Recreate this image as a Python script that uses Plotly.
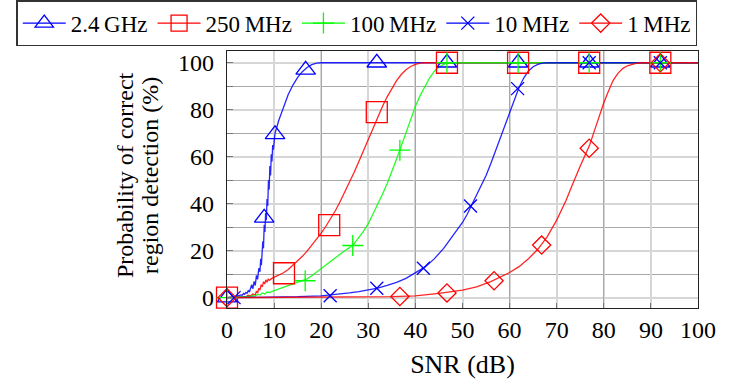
import plotly.graph_objects as go

# ---------------- data ----------------
series_names = ["2.4\u2009GHz", "250\u2009MHz", "100\u2009MHz", "10\u2009MHz", "1\u2009MHz"]
y_title_lines = ["Probability of correct", "region detection (%)"]
x_title = "SNR (dB)"

# measured points (markers)
m24_x = [0, 7.9, 10.2, 16.7, 31.8, 46.7, 61.8, 76.9, 92]
m24_y = [0, 34, 69.5, 97, 100, 100, 100, 100, 100]
m250_x = [0, 12.1, 21.7, 31.8, 46.7, 61.8, 76.9, 92]
m250_y = [0, 10.4, 30.9, 79, 100, 100, 100, 100]
m100_x = [0, 16.6, 26.7, 36.7, 46.7, 61.8, 76.9, 92]
m100_y = [0, 7.2, 22.2, 62.8, 100, 100, 100, 100]
m10_x = [-1, 1.5, 21.9, 31.8, 41.7, 51.7, 61.7, 76.9, 92]
m10_y = [0, 0, 0.8, 4, 12.5, 39, 89, 100, 100]
m1_x = [0, 36.7, 46.7, 56.7, 66.8, 76.9, 92]
m1_y = [0, 0.5, 2, 7.2, 22.4, 63.6, 100]

# fitted / simulated curves
c24_x = [0, 1, 2, 2.5, 3, 3.25, 3.5, 3.75, 4, 4.25, 4.5, 4.75, 5, 5.25, 5.5, 5.75, 6, 6.25,
         6.5, 6.75, 7, 7.15, 7.3, 7.45, 7.6, 7.75, 7.9, 8.05, 8.2, 8.35, 8.5, 8.65, 8.8,
         8.95, 9.1, 9.25, 9.4, 9.55, 9.7, 9.85, 10, 10.2, 11, 12, 13, 14, 15, 16, 17, 18,
         19, 20, 100]
c24_y = [0, 0.2, 0.5, 0.9, 1.2, 1.0, 1.8, 1.4, 2.2, 1.9, 3.0, 2.4, 3.6, 5.5, 3.8, 6.9, 5.2,
         9.5, 7.8, 12.5, 11, 16.5, 13.8, 20, 24, 21, 31, 28, 36, 33, 42, 39, 50, 46, 56, 52,
         61, 58, 65, 63, 68.5, 70, 75.5, 81.5, 86.5, 90.5, 93.8, 96.2, 98, 99.2, 99.8, 100, 100]

c250_x = [0, 3, 3.5, 4, 4.5, 5, 5.5, 6, 6.25, 6.5, 6.75, 7, 7.25, 7.5, 7.75, 8, 8.25, 8.5,
          8.75, 9, 9.5, 10, 11, 12, 13, 14, 15, 16, 17, 18, 19, 20, 21, 22, 23, 24, 25, 26,
          27, 28, 29, 30, 31, 32, 33, 34, 35, 36, 37, 38, 39, 40, 41, 42, 100]
c250_y = [0, 0.2, 0.5, 0.4, 1.0, 0.8, 1.6, 1.2, 2.8, 2.0, 4.0, 3.2, 5.5, 4.6, 6.8, 5.8, 7.6,
          6.6, 7.9, 7.4, 8.2, 8.7, 9.6, 10.6, 12, 13.8, 15.6, 17.6, 19.8, 22.2, 24.8, 27.5,
          30.4, 33.5, 37, 40.8, 44.8, 49, 53.4, 58, 62.8, 67.6, 72.4, 77, 81.4, 85.5, 89.2,
          92.4, 95, 97, 98.4, 99.3, 99.8, 100, 100]

c100_x = [0, 4, 5, 5.5, 6, 6.5, 7, 7.5, 8, 8.5, 9, 10, 11, 12, 13, 14, 15, 16, 17, 18, 19,
          20, 21, 22, 23, 24, 25, 26, 27, 28, 29, 30, 31, 32, 33, 34, 35, 36, 37, 38, 39, 40,
          41, 42, 43, 44, 45, 46, 47, 100]
c100_y = [0, 0.2, 0.5, 0.9, 0.6, 1.5, 1.1, 2.0, 1.6, 2.4, 2.2, 3.0, 3.7, 4.5, 5.3, 6.0, 6.6,
          7.1, 8.0, 9.3, 10.9, 12.5, 14.0, 15.5, 17.0, 18.5, 20.0, 21.3, 23.0, 25.5, 28.3,
          31.5, 35.5, 40.0, 44.0, 48.5, 53.5, 59.0, 64.5, 70.5, 76.5, 81.5, 86.0, 90.0, 93.5,
          96.3, 98.2, 99.3, 100, 100]

c10_x = [0, 5, 10, 15, 20, 22, 24, 26, 28, 30, 32, 34, 36, 38, 40, 42, 44, 46, 48, 50, 51,
         52, 53, 54, 55, 56, 57, 58, 59, 60, 61, 62, 63, 64, 65, 66, 67, 68, 100]
c10_y = [0, 0.1, 0.2, 0.4, 0.8, 1.1, 1.5, 2.0, 2.6, 3.3, 4.1, 5.2, 6.5, 8.2, 10.5, 13.0, 16.5,
         21.0, 26.5, 32.0, 35.5, 39.5, 43.5, 47.5, 52.0, 57.0, 62.5, 68.0, 73.5, 79.0, 84.5,
         89.5, 93.5, 96.5, 98.3, 99.3, 99.8, 100, 100]

c1_x = [0, 20, 30, 35, 40, 45, 50, 53, 56, 58, 60, 62, 64, 66, 68, 70, 71, 72, 73, 74, 75,
        76, 77, 78, 79, 80, 81, 82, 83, 84, 85, 86, 87, 88, 100]
c1_y = [0, 0.1, 0.3, 0.4, 0.8, 1.8, 3.2, 4.6, 6.8, 8.6, 10.7, 13.2, 16.6, 20.6, 26.0, 33.0,
        37.0, 41.5, 46.5, 51.5, 56.0, 60.5, 65.0, 71.0, 77.5, 83.0, 88.0, 92.5, 95.5, 97.5,
        98.7, 99.4, 99.8, 100, 100]

x_ticks = [0, 10, 20, 30, 40, 50, 60, 70, 80, 90, 100]
y_ticks = [0, 20, 40, 60, 80, 100]

# ---------------- styling ----------------
colors = ["#0000ff", "#ff0000", "#00ff00", "#0000ff", "#ff0000"]
symbols = ["triangle-up-open", "square-open", "cross-thin-open", "x-thin-open", "diamond-open"]
sizes = [17, 21, 15, 13, 14]
FONT = "Liberation Serif, Times New Roman, DejaVu Serif, serif"

curves = [(c24_x, c24_y), (c250_x, c250_y), (c100_x, c100_y), (c10_x, c10_y), (c1_x, c1_y)]
marks = [(m24_x, m24_y), (m250_x, m250_y), (m100_x, m100_y), (m10_x, m10_y), (m1_x, m1_y)]

fig = go.Figure()
for i, name in enumerate(series_names):
    cx, cy = curves[i]
    fig.add_trace(go.Scatter(x=cx, y=cy, mode="lines", showlegend=False,
                             line=dict(color=colors[i], width=1.3), opacity=0.85,
                             hoverinfo="skip"))
for i, name in enumerate(series_names):
    mx, my = marks[i]
    fig.add_trace(go.Scatter(x=mx, y=my, mode="markers", showlegend=False, cliponaxis=False,
                             marker=dict(symbol=symbols[i], size=sizes[i], color=colors[i],
                                         line=dict(color=colors[i], width=1.3))))
# legend entries
for i, name in enumerate(series_names):
    fig.add_trace(go.Scatter(x=[None], y=[None], mode="lines+markers", name=name,
                             line=dict(color=colors[i], width=1.3),
                             marker=dict(symbol=symbols[i], size=sizes[i], color=colors[i],
                                         line=dict(color=colors[i], width=1.3))))

# dark grid overlay axis for x (even twenties)
fig.add_trace(go.Scatter(x=[None], y=[None], xaxis="x2", showlegend=False, hoverinfo="skip"))

# y-axis title as two rotated lines (tighter line spacing than the built-in title)
annotations = [
    dict(text=y_title_lines[0], xref="paper", yref="paper", x=-0.2166, y=0.5175,
         xanchor="center", yanchor="middle", textangle=-90, showarrow=False,
         font=dict(family=FONT, size=24)),
    dict(text=y_title_lines[1], xref="paper", yref="paper", x=-0.1635, y=0.5175,
         xanchor="center", yanchor="middle", textangle=-90, showarrow=False,
         font=dict(family=FONT, size=24)),
]

fig.update_layout(
    width=740, height=385,
    margin=dict(l=227, r=42, t=51, b=77, autoexpand=False),
    paper_bgcolor="white", plot_bgcolor="white",
    font=dict(family=FONT, size=22, color="black"),
    showlegend=True,
    annotations=annotations,
    legend=dict(orientation="h", x=-0.447, xanchor="left", y=1.197, yanchor="top",
                bordercolor="#333", borderwidth=1.3, bgcolor="white",
                font=dict(family=FONT, size=23), itemsizing="trace",
                tracegroupgap=0, itemwidth=43),
    xaxis=dict(range=[0, 100], tickvals=x_ticks, showgrid=True, gridcolor="#d6d6d6",
               gridwidth=1.8, zeroline=False, showline=True, linecolor="#222", linewidth=1.2,
               mirror=True, ticks="inside", ticklen=5, tickcolor="#777", automargin=False,
               ticklabelstandoff=0,
               title=dict(text=x_title, standoff=12), tickfont=dict(size=24)),
    xaxis2=dict(range=[0, 100], overlaying="x", tickvals=[20, 40, 60, 80], showgrid=True,
                gridcolor="#a8a8a8", gridwidth=1, showticklabels=False, zeroline=False,
                anchor="y", side="bottom", showline=False, ticks="", automargin=False),
    yaxis=dict(range=[-4.4, 105], tickvals=y_ticks, showgrid=True, gridcolor="#d6d6d6",
               gridwidth=1.8, zeroline=False, showline=True, linecolor="#222", linewidth=1.2,
               mirror=True, ticks="inside", ticklen=6, tickcolor="#777", automargin=False,
               ticklabelstandoff=7,
               minor=dict(dtick=10, showgrid=True, gridcolor="#a8a8a8", gridwidth=1,
                          ticks="inside", ticklen=6, tickcolor="#777"),
               tickfont=dict(size=24)),
)

fig.write_html("out.html", config={"displayModeBar": False},
               post_script="document.body.style.margin='0';document.body.style.padding='0';")
